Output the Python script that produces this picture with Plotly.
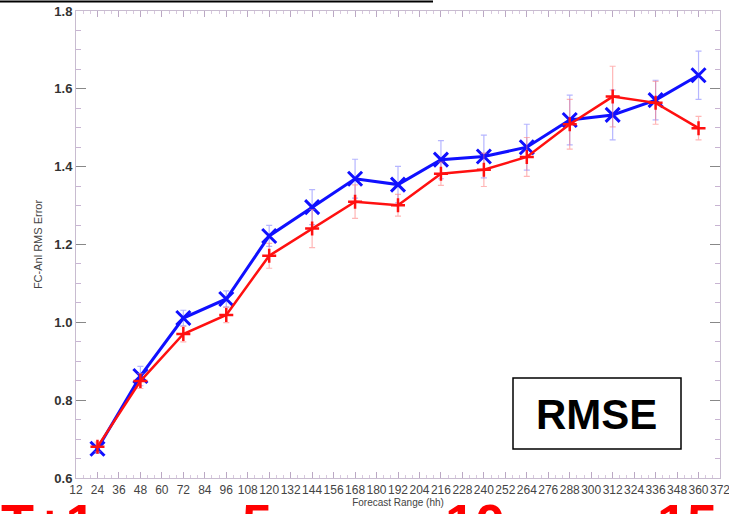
import plotly.graph_objects as go

# ---- data ----
forecast_hours = [24, 48, 72, 96, 120, 144, 168, 192, 216, 240, 264, 288, 312, 336, 360]
blue_rmse = [0.675, 0.862, 1.011, 1.060, 1.222, 1.296, 1.369, 1.354, 1.418, 1.426, 1.450, 1.520, 1.533, 1.571, 1.635]
blue_err = [0.012, 0.025, 0.020, 0.021, 0.027, 0.045, 0.050, 0.047, 0.049, 0.055, 0.059, 0.064, 0.064, 0.051, 0.062]
red_rmse = [0.680, 0.849, 0.970, 1.019, 1.171, 1.241, 1.310, 1.301, 1.382, 1.392, 1.425, 1.509, 1.580, 1.564, 1.499]
red_err = [0.012, 0.019, 0.020, 0.020, 0.032, 0.049, 0.043, 0.028, 0.030, 0.043, 0.050, 0.064, 0.078, 0.055, 0.030]
x_ticks = list(range(12, 373, 12))
x_tick_labels = [str(v) for v in x_ticks]
y_ticks = [0.6, 0.8, 1.0, 1.2, 1.4, 1.6, 1.8]
y_tick_labels = ["0.6", "0.8", "1.0", "1.2", "1.4", "1.6", "1.8"]
day_labels = ["T+1", "5", "10", "15"]

W, H = 729, 514
L, R, T, B = 76, 9, 11, 36
pw, ph = W - L - R, H - T - B

def px(x):
    return (x - L) / pw

def py(y):
    return (H - B - y) / ph

fig = go.Figure()

fig.add_trace(go.Scatter(
    x=forecast_hours, y=blue_rmse, mode="lines+markers",
    line=dict(color="#1010ff", width=3),
    marker=dict(symbol="x-thin", size=14, line=dict(color="#1010ff", width=3)),
    error_y=dict(type="data", array=blue_err, color="rgba(110,110,255,0.5)", thickness=1.2, width=3),
    showlegend=False,
))
fig.add_trace(go.Scatter(
    x=forecast_hours, y=red_rmse, mode="lines+markers",
    line=dict(color="#ff1010", width=2.5),
    marker=dict(symbol="cross-thin", size=10, line=dict(color="#ff1010", width=2.5)),
    error_y=dict(type="data", array=red_err, color="rgba(255,110,110,0.5)", thickness=1.2, width=3),
    showlegend=False,
))

axis_line = "#c8bcd0"
fig.update_xaxes(
    range=[12, 372], tickmode="array", tickvals=x_ticks, ticktext=x_tick_labels, tickangle=0,
    ticks="inside", ticklen=6, tickcolor="#bba8c4", tickwidth=1,
    minor=dict(ticks="inside", dtick=4, tick0=0, ticklen=3, tickcolor="#d8c8de"),
    showline=True, linecolor=axis_line, linewidth=1, mirror="ticks",
    showgrid=False, zeroline=False, ticklabeloverflow="allow", ticklabelstandoff=1,
    tickfont=dict(family="Liberation Sans, Arial", size=12, color="#444"),
    title=dict(text="Forecast Range (hh)", font=dict(family="Liberation Sans, Arial", size=10, color="#444"), standoff=0),
)
fig.update_yaxes(
    range=[0.6, 1.8], tickmode="array", tickvals=y_ticks, ticktext=y_tick_labels,
    ticks="inside", ticklen=10, tickcolor="#888", tickwidth=1,
    minor=dict(ticks="inside", dtick=0.05, ticklen=5, tickcolor="#c8b4d2"),
    showline=True, linecolor=axis_line, linewidth=1, mirror="ticks",
    showgrid=False, zeroline=False,
    tickfont=dict(family="Liberation Sans, Arial", size=13, color="#333", weight="bold"),
    title=dict(text="FC-Anl RMS Error", font=dict(family="Liberation Sans, Arial", size=11, color="#444"), standoff=9),
)

shapes = [
    dict(type="line", xref="paper", yref="paper", x0=px(0), x1=px(433), y0=py(1.5), y1=py(1.5),
         line=dict(color="black", width=2)),
    dict(type="rect", xref="paper", yref="paper", x0=px(513), x1=px(681), y0=py(449), y1=py(378),
         line=dict(color="black", width=1.5), fillcolor="white"),
]

annotations = [
    dict(text="RMSE", xref="paper", yref="paper", x=px(596), y=py(414), xanchor="center", yanchor="middle",
         showarrow=False, font=dict(family="Liberation Sans, Arial", size=42, color="black", weight="bold")),
]
day_x = [None, 257, 475, 687]
for lab, cx in zip(day_labels, day_x):
    if cx is None:
        annotations.append(dict(text=lab, xref="paper", yref="paper", x=px(-1), y=py(491), xanchor="left", yanchor="top",
                                showarrow=False, font=dict(family="Liberation Sans, Arial", size=54, color="#ff0000", weight="bold")))
    else:
        annotations.append(dict(text=lab, xref="paper", yref="paper", x=px(cx), y=py(491), xanchor="center", yanchor="top",
                                showarrow=False, font=dict(family="Liberation Sans, Arial", size=54, color="#ff0000", weight="bold")))

fig.update_layout(
    width=W, height=H, margin=dict(l=L, r=R, t=T, b=B, autoexpand=False),
    paper_bgcolor="white", plot_bgcolor="white",
    shapes=shapes, annotations=annotations,
)

fig.write_html("out.html", config={"displayModeBar": False},
               post_script="document.body.style.margin='0';")
